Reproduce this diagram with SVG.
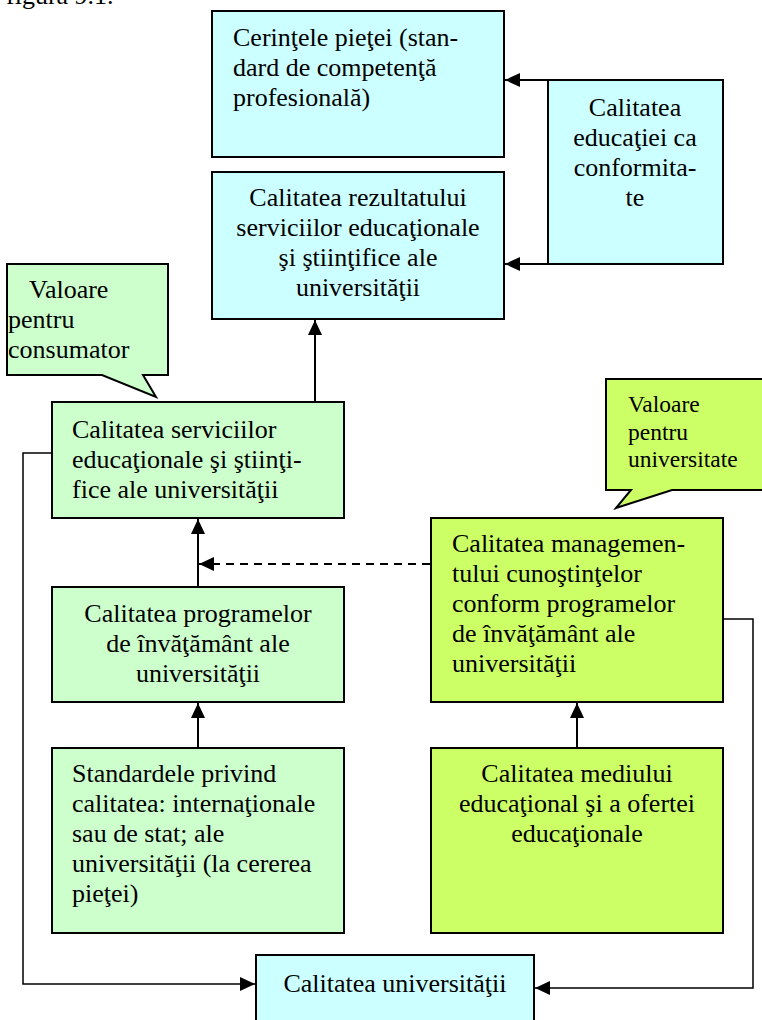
<svg xmlns="http://www.w3.org/2000/svg" width="762" height="1020" viewBox="0 0 762 1020">
  <style>
    text { font-family: "Liberation Serif", "Times New Roman", serif; font-size: 26px; fill: #000; }
    .mid { text-anchor: middle; }
    .small { font-size: 23.5px; }
    .box { stroke: #000; stroke-width: 2; }
    .cyan { fill: #CCFFFF; }
    .mint { fill: #CCFFCC; }
    .lime { fill: #CCFF66; }
    .conn { fill: none; stroke: #000; stroke-width: 2; }
    .thin { stroke-width: 1.5; }
    .dash { stroke-dasharray: 8 6; }
  </style>
  <defs>
    <marker id="arrow" markerUnits="userSpaceOnUse" markerWidth="16" markerHeight="14" refX="15" refY="7" orient="auto">
      <path d="M0,0 L15,7 L0,14 Z" fill="#000"/>
    </marker>
  </defs>

  <rect width="762" height="1020" fill="#fff"/>

  <text x="6" y="4">figura 9.1.</text>

  <g id="connectors">
    <path class="conn" d="M548,80 H505" marker-end="url(#arrow)"/>
    <path class="conn" d="M548,264 H505" marker-end="url(#arrow)"/>
    <path class="conn" d="M315,402 V320" marker-end="url(#arrow)"/>
    <path class="conn" d="M198,587 V519" marker-end="url(#arrow)"/>
    <path class="conn" d="M198,748 V703" marker-end="url(#arrow)"/>
    <path class="conn dash" d="M430,564 H199" marker-end="url(#arrow)"/>
    <path class="conn" d="M577,748 V703" marker-end="url(#arrow)"/>
    <path class="conn thin" d="M52,453 H23 V984 H255" marker-end="url(#arrow)"/>
    <path class="conn thin" d="M723,619 H753 V988 H535" marker-end="url(#arrow)"/>
  </g>

  <g id="cerinte-piata">
    <rect class="box cyan" x="212" y="11" width="292" height="146"/>
    <text x="233" y="46">Cerinţele pieţei (stan-</text>
    <text x="233" y="76">dard de competenţă</text>
    <text x="233" y="106">profesională)</text>
  </g>

  <g id="calitatea-educatiei">
    <rect class="box cyan" x="548" y="80" width="175" height="184"/>
    <text class="mid" x="635" y="116">Calitatea</text>
    <text class="mid" x="635" y="146">educaţiei ca</text>
    <text class="mid" x="635" y="176">conformita-</text>
    <text class="mid" x="635" y="206">te</text>
  </g>

  <g id="calitatea-rezultatului">
    <rect class="box cyan" x="212" y="172" width="292" height="147"/>
    <text class="mid" x="358" y="206">Calitatea rezultatului</text>
    <text class="mid" x="358" y="236">serviciilor educaţionale</text>
    <text class="mid" x="358" y="266">şi ştiinţifice ale</text>
    <text class="mid" x="358" y="296">universităţii</text>
  </g>

  <g id="valoare-consumator">
    <path class="box mint" d="M7,264 H168 V375 H143 L156,397 L102,375 H7 Z"/>
    <text x="29" y="298">Valoare</text>
    <text x="8" y="328">pentru</text>
    <text x="8" y="358">consumator</text>
  </g>

  <g id="calitatea-serviciilor">
    <rect class="box mint" x="52" y="402" width="292" height="116"/>
    <text x="72" y="438">Calitatea serviciilor</text>
    <text x="72" y="468">educaţionale şi ştiinţi-</text>
    <text x="72" y="498">fice ale universităţii</text>
  </g>

  <g id="calitatea-programelor">
    <rect class="box mint" x="52" y="587" width="292" height="115"/>
    <text class="mid" x="198" y="622">Calitatea programelor</text>
    <text class="mid" x="198" y="652">de învăţământ ale</text>
    <text class="mid" x="198" y="682">universităţii</text>
  </g>

  <g id="standardele">
    <rect class="box mint" x="52" y="748" width="292" height="185"/>
    <text x="72" y="782">Standardele privind</text>
    <text x="72" y="812">calitatea: internaţionale</text>
    <text x="72" y="842">sau de stat; ale</text>
    <text x="72" y="872">universităţii (la cererea</text>
    <text x="72" y="902">pieţei)</text>
  </g>

  <g id="valoare-universitate">
    <path class="box lime" d="M606,379 H775 V490 H672 L616,508 L631,490 H606 Z"/>
    <text class="small" x="628" y="412">Valoare</text>
    <text class="small" x="628" y="440">pentru</text>
    <text class="small" x="628" y="467">universitate</text>
  </g>

  <g id="calitatea-managementului">
    <rect class="box lime" x="431" y="518" width="292" height="184"/>
    <text x="452" y="552">Calitatea managemen-</text>
    <text x="452" y="582">tului cunoştinţelor</text>
    <text x="452" y="612">conform programelor</text>
    <text x="452" y="642">de învăţământ ale</text>
    <text x="452" y="672">universităţii</text>
  </g>

  <g id="calitatea-mediului">
    <rect class="box lime" x="431" y="748" width="292" height="185"/>
    <text class="mid" x="577" y="782">Calitatea mediului</text>
    <text class="mid" x="577" y="812">educaţional şi a ofertei</text>
    <text class="mid" x="577" y="842">educaţionale</text>
  </g>

  <g id="calitatea-universitatii">
    <rect class="box cyan" x="256" y="955" width="278" height="80"/>
    <text class="mid" x="395" y="992">Calitatea universităţii</text>
  </g>
</svg>
